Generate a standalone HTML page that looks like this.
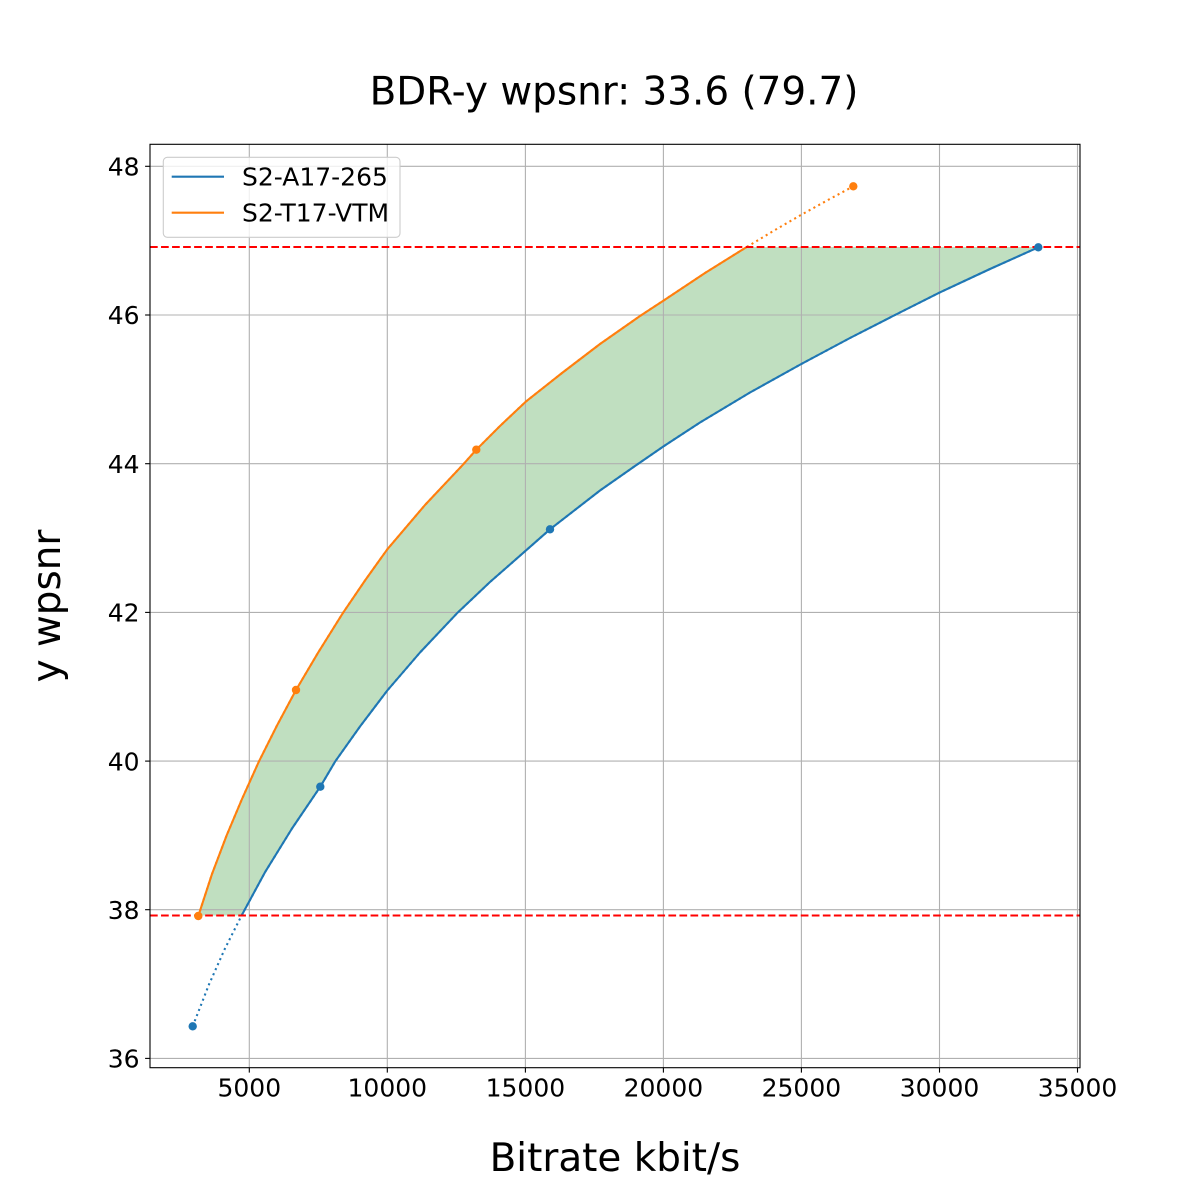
<!DOCTYPE html>
<html>
<head>
<meta charset="utf-8">
<style>
  html, body { margin: 0; padding: 0; background: #ffffff; }
  svg { display: block; }
  text { font-family: "DejaVu Sans", "Liberation Sans", sans-serif; fill: #000; }
</style>
</head>
<body>
<svg width="1200" height="1200" viewBox="0 0 1200 1200" xmlns="http://www.w3.org/2000/svg">
  <defs>
    <clipPath id="axclip"><rect x="150" y="144.3" width="930" height="923.4"/></clipPath>
    <clipPath id="band"><rect x="150" y="247" width="930" height="668.5"/></clipPath>
  </defs>

  <rect x="0" y="0" width="1200" height="1200" fill="#ffffff"/>

  <!-- fill between curves -->
  <g clip-path="url(#band)">
    <path fill="#c0dfc0" stroke="none" d="M198.3,916 L212,874 L226.6,835.5 L242,799 L259,761.3 L277,725.5 L296,690 L318,652.8 L342.7,613.3 L365,580.5 L387.3,549.3 L425,505 L463.3,464.3 L476.3,449.7 L500,426 L525.7,401.7 L562,373 L600,344 L640,316 L663.3,300.7 L705,273 L746.7,247 L775,230 L800,215.5 L827,200.5 L853.3,186.3 L1038.3,247.3 L990,269 L939.3,292.7 L893,316 L850,338 L801.3,364 L750,392.5 L700,422.5 L663.3,446.5 L635,466 L600,490.5 L550,529.3 L525.7,550.7 L490,582 L457,613.3 L420,652.5 L387.3,690.5 L360,726.5 L335.3,761.3 L320.3,786.7 L292,828.5 L264.8,872.6 L241.5,915.7 L225,948.5 L209.1,984.2 L192.7,1026.3 Z"/>
  </g>

  <!-- grid -->
  <g stroke="#b0b0b0" stroke-width="1.1" fill="none">
    <line x1="249.3" y1="144.3" x2="249.3" y2="1067.7"/>
    <line x1="387.3" y1="144.3" x2="387.3" y2="1067.7"/>
    <line x1="525.4" y1="144.3" x2="525.4" y2="1067.7"/>
    <line x1="663.4" y1="144.3" x2="663.4" y2="1067.7"/>
    <line x1="801.4" y1="144.3" x2="801.4" y2="1067.7"/>
    <line x1="939.5" y1="144.3" x2="939.5" y2="1067.7"/>
    <line x1="1077.5" y1="144.3" x2="1077.5" y2="1067.7"/>
    <line x1="150" y1="1058.4" x2="1080" y2="1058.4"/>
    <line x1="150" y1="909.7" x2="1080" y2="909.7"/>
    <line x1="150" y1="761.1" x2="1080" y2="761.1"/>
    <line x1="150" y1="612.4" x2="1080" y2="612.4"/>
    <line x1="150" y1="463.7" x2="1080" y2="463.7"/>
    <line x1="150" y1="315.0" x2="1080" y2="315.0"/>
    <line x1="150" y1="166.3" x2="1080" y2="166.3"/>
  </g>

  <g clip-path="url(#axclip)">
    <!-- blue full curve dotted -->
    <path fill="none" stroke="#1f77b4" stroke-width="2.08" stroke-dasharray="2.08 3.43" d="M192.7,1026.3 L209.1,984.2 L225,948.5 L241.5,915.7 L264.8,872.6 L292,828.5 L320.3,786.7 L335.3,761.3 L360,726.5 L387.3,690.5 L420,652.5 L457,613.3 L490,582 L525.7,550.7 L550,529.3 L600,490.5 L635,466 L663.3,446.5 L700,422.5 L750,392.5 L801.3,364 L850,338 L893,316 L939.3,292.7 L990,269 L1038.3,247.3"/>
    <!-- orange full curve dotted -->
    <path fill="none" stroke="#ff7f0e" stroke-width="2.08" stroke-dasharray="2.08 3.43" d="M198.3,916 L212,874 L226.6,835.5 L242,799 L259,761.3 L277,725.5 L296,690 L318,652.8 L342.7,613.3 L365,580.5 L387.3,549.3 L425,505 L463.3,464.3 L476.3,449.7 L500,426 L525.7,401.7 L562,373 L600,344 L640,316 L663.3,300.7 L705,273 L746.7,247 L775,230 L800,215.5 L827,200.5 L853.3,186.3"/>

    <!-- solid portions in band -->
    <g clip-path="url(#band)">
      <path fill="none" stroke="#1f77b4" stroke-width="2.08" stroke-linejoin="round" d="M192.7,1026.3 L209.1,984.2 L225,948.5 L241.5,915.7 L264.8,872.6 L292,828.5 L320.3,786.7 L335.3,761.3 L360,726.5 L387.3,690.5 L420,652.5 L457,613.3 L490,582 L525.7,550.7 L550,529.3 L600,490.5 L635,466 L663.3,446.5 L700,422.5 L750,392.5 L801.3,364 L850,338 L893,316 L939.3,292.7 L990,269 L1038.3,247.3"/>
      <path fill="none" stroke="#ff7f0e" stroke-width="2.08" stroke-linejoin="round" d="M198.3,916 L212,874 L226.6,835.5 L242,799 L259,761.3 L277,725.5 L296,690 L318,652.8 L342.7,613.3 L365,580.5 L387.3,549.3 L425,505 L463.3,464.3 L476.3,449.7 L500,426 L525.7,401.7 L562,373 L600,344 L640,316 L663.3,300.7 L705,273 L746.7,247 L775,230 L800,215.5 L827,200.5 L853.3,186.3"/>
    </g>

    <!-- red dashed limits -->
    <line x1="150" y1="247" x2="1080" y2="247" stroke="#ff0000" stroke-width="2.08" stroke-dasharray="7.7 3.33"/>
    <line x1="150" y1="915.5" x2="1080" y2="915.5" stroke="#ff0000" stroke-width="2.08" stroke-dasharray="7.7 3.33"/>

    <!-- markers -->
    <g fill="#1f77b4">
      <circle cx="192.7" cy="1026.3" r="4.2"/>
      <circle cx="320.3" cy="786.7" r="4.2"/>
      <circle cx="550" cy="529.3" r="4.2"/>
      <circle cx="1038.3" cy="247.3" r="4.2"/>
    </g>
    <g fill="#ff7f0e">
      <circle cx="198.3" cy="916" r="4.2"/>
      <circle cx="296" cy="690" r="4.2"/>
      <circle cx="476.3" cy="449.7" r="4.2"/>
      <circle cx="853.3" cy="186.3" r="4.2"/>
    </g>
  </g>

  <!-- spines -->
  <rect x="150" y="144.3" width="930" height="923.4" fill="none" stroke="#000" stroke-width="1.1"/>

  <!-- ticks -->
  <g stroke="#000" stroke-width="1.1">
    <line x1="249.3" y1="1067.7" x2="249.3" y2="1072.6"/>
    <line x1="387.3" y1="1067.7" x2="387.3" y2="1072.6"/>
    <line x1="525.4" y1="1067.7" x2="525.4" y2="1072.6"/>
    <line x1="663.4" y1="1067.7" x2="663.4" y2="1072.6"/>
    <line x1="801.4" y1="1067.7" x2="801.4" y2="1072.6"/>
    <line x1="939.5" y1="1067.7" x2="939.5" y2="1072.6"/>
    <line x1="1077.5" y1="1067.7" x2="1077.5" y2="1072.6"/>
    <line x1="150" y1="1058.4" x2="145.1" y2="1058.4"/>
    <line x1="150" y1="909.7" x2="145.1" y2="909.7"/>
    <line x1="150" y1="761.1" x2="145.1" y2="761.1"/>
    <line x1="150" y1="612.4" x2="145.1" y2="612.4"/>
    <line x1="150" y1="463.7" x2="145.1" y2="463.7"/>
    <line x1="150" y1="315.0" x2="145.1" y2="315.0"/>
    <line x1="150" y1="166.3" x2="145.1" y2="166.3"/>
  </g>

  <!-- tick labels -->
  <g font-size="25" text-anchor="middle">
    <text x="249.3" y="1096.7">5000</text>
    <text x="387.3" y="1096.7">10000</text>
    <text x="525.4" y="1096.7">15000</text>
    <text x="663.4" y="1096.7">20000</text>
    <text x="801.4" y="1096.7">25000</text>
    <text x="939.5" y="1096.7">30000</text>
    <text x="1077.5" y="1096.7">35000</text>
  </g>
  <g font-size="25" text-anchor="end">
    <text x="139.5" y="1067.5">36</text>
    <text x="139.5" y="918.9">38</text>
    <text x="139.5" y="770.3">40</text>
    <text x="139.5" y="621.6">42</text>
    <text x="139.5" y="472.9">44</text>
    <text x="139.5" y="324.2">46</text>
    <text x="139.5" y="175.5">48</text>
  </g>

  <!-- title and axis labels -->
  <text x="614" y="104.3" font-size="38.9" text-anchor="middle">BDR-y wpsnr: 33.6 (79.7)</text>
  <text x="615" y="1171" font-size="38.9" text-anchor="middle">Bitrate kbit/s</text>
  <text transform="translate(60,606) rotate(-90)" font-size="38.9" text-anchor="middle">y wpsnr</text>

  <!-- legend -->
  <rect x="163.3" y="157.3" width="236.7" height="80" rx="4" ry="4" fill="#ffffff" fill-opacity="0.8" stroke="#cccccc" stroke-width="1.1"/>
  <line x1="171.7" y1="176.7" x2="224" y2="176.7" stroke="#1f77b4" stroke-width="2.08"/>
  <line x1="171.7" y1="212.7" x2="224" y2="212.7" stroke="#ff7f0e" stroke-width="2.08"/>
  <text x="242" y="185.7" font-size="25">S2-A17-265</text>
  <text x="242" y="221.7" font-size="25">S2-T17-VTM</text>
</svg>
</body>
</html>
